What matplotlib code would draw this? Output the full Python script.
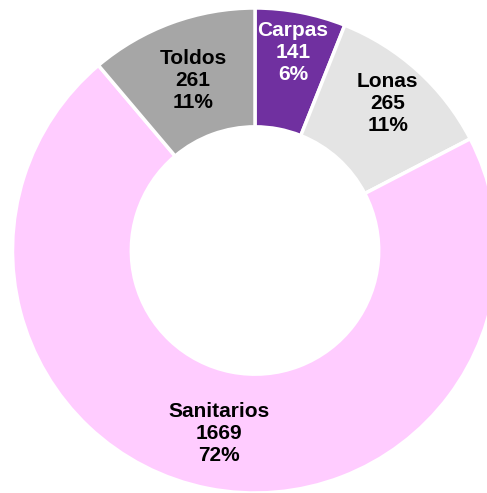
import matplotlib
matplotlib.use("Agg")
import matplotlib.pyplot as plt
import numpy as np

categories = ["Carpas", "Lonas", "Sanitarios", "Toldos"]
values = [141, 265, 1669, 261]
pct_labels = ["6%", "11%", "72%", "11%"]

colors = ["#7030A0", "#E4E4E4", "#FFCCFF", "#A6A6A6"]
text_colors = ["white", "black", "black", "black"]
label_radius = [0.83, 0.815, 0.77, 0.745]

plt.rcParams['font.family'] = ['Liberation Sans', 'DejaVu Sans']

W, H = 487, 493
fig = plt.figure(figsize=(W / 100, H / 100), dpi=100)
ax = fig.add_axes([0, 0, 1, 1])
cx, cy, R = 255, 242.5, 242.5
wedges, _ = ax.pie(values, colors=colors, startangle=90, counterclock=False,
                   center=(cx, cy), radius=R, frame=True,
                   wedgeprops=dict(width=0.49 * R, edgecolor="white", linewidth=2.5))
ax.set_xlim(0, W)
ax.set_ylim(0, H)
ax.set_aspect("equal")
ax.axis("off")

for w, cat, v, p, tc, rf in zip(wedges, categories, values, pct_labels, text_colors, label_radius):
    ang = np.deg2rad((w.theta1 + w.theta2) / 2)
    x = cx + rf * R * np.cos(ang)
    y = cy + rf * R * np.sin(ang)
    ax.text(x, y, f"{cat}\n{v}\n{p}", ha="center", va="center", color=tc,
            fontsize=15, fontweight="bold", linespacing=1.2)

fig.savefig("out.png", dpi=100)
